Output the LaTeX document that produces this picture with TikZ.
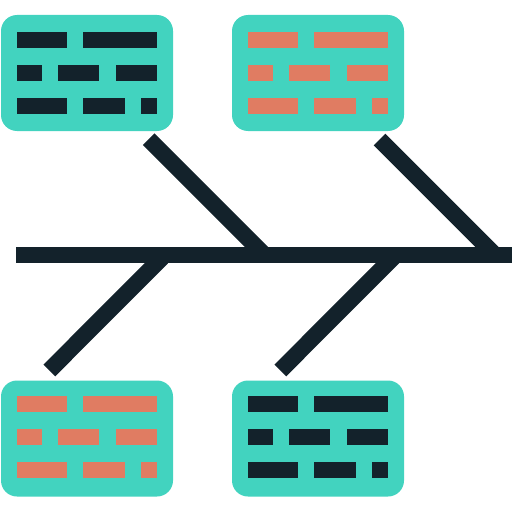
\documentclass[tikz,border=0pt]{standalone}
\usetikzlibrary{positioning}
\definecolor{teal}{RGB}{66,211,191}
\definecolor{ink}{RGB}{19,34,43}
\definecolor{brick}{RGB}{224,124,98}
\def\px{0.025cm}
% three rows of bricks inside a card, #1 card, #2 colour, #3 first row offset
\newcommand{\bricks}[3]{%
\begin{scope}[shift={(#1.north west)}]
\foreach \xa/\xb/\r in {16/66/0,82/156/0,16/41/1,57/98/1,115/156/1,16/66/2,82/124/2,140/156/2}
  \fill[#2] (\xa,{#3+33*\r}) rectangle (\xb,{#3+33*\r+16});
\end{scope}}
\begin{document}
\begin{tikzpicture}[x=\px,y=-\px,inner sep=0pt,outer sep=0pt,
card/.style={fill=teal,rectangle,rounded corners=16*\px,minimum width=172*\px,minimum height=116*\px},
bone/.style={draw=ink,line width=16.6*\px,line cap=butt}]
\useasboundingbox (0,0) rectangle (512,512);
\draw (87,73) node[card] (cardTL) {};
\draw (318,73) node[card] (cardTR) {};
\draw (87,438.5) node[card] (cardBL) {};
\draw (318,438.5) node[card] (cardBR) {};
\bricks{cardTL}{ink}{17}
\bricks{cardTR}{brick}{17}
\bricks{cardBL}{brick}{15}
\bricks{cardBR}{ink}{15}
% spine and bones
\coordinate (tail) at (16,255);
\coordinate (head) at (512,255);
\coordinate (boneTL) at (148.7,139.2);
\coordinate (boneTR) at (379.5,139.5);
\coordinate (boneBL) at (49.3,370.5);
\coordinate (boneBR) at (280.3,370.5);
\draw[bone] (tail) -- (head);
\draw[bone] (boneTL) -- (264.5,255);
\draw[bone] (boneTR) -- (495,255);
\draw[bone] (164.5,255) -- (boneBL);
\draw[bone] (395.5,255) -- (boneBR);
\end{tikzpicture}
\end{document}
